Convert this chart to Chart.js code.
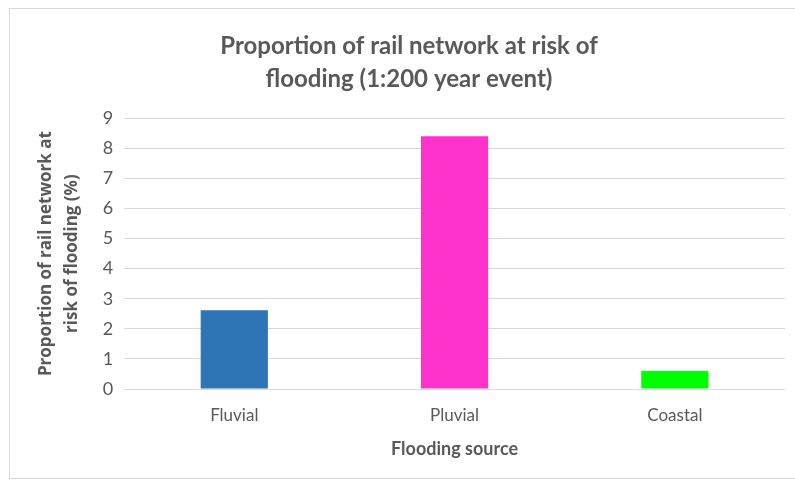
<!DOCTYPE html>
<html>
<head>
<meta charset="utf-8">
<script src="https://cdn.jsdelivr.net/npm/chart.js@4"></script>
<style>
    html, body { margin: 0; padding: 0; background: #ffffff; }
    #wrap { position: relative; width: 795px; height: 482px; }
    #frame { position: absolute; left: 9px; top: 8px; width: 800px; height: 471px; border: 1px solid #d9d9d9; box-sizing: border-box; }
    canvas { position: absolute; left: 0; top: 0; }
</style>
</head>
<body>
<div id="wrap">
    <div id="frame"></div>
    <canvas id="chart" width="795" height="482"></canvas>
</div>
<script>
// Chart data
const categories = ['Fluvial', 'Pluvial', 'Coastal'];
const proportions = [2.62, 8.4, 0.6];
const barColors = ['#2e75b6', '#ff33cc', '#00ff00'];
const yTicks = [0, 1, 2, 3, 4, 5, 6, 7, 8, 9];

const textColor = '#595959';

new Chart(document.getElementById('chart'), {
    type: 'bar',
    data: {
        labels: categories,
        datasets: [{
            data: proportions,
            backgroundColor: barColors,
            borderWidth: 0,
            categoryPercentage: 1,
            barPercentage: 0.305
        }]
    },
    options: {
        responsive: false,
        animation: false,
        layout: {
            padding: { top: 8, right: 10, bottom: 22, left: 33 }
        },
        plugins: {
            legend: { display: false },
            tooltip: { enabled: false },
            title: {
                display: true,
                text: ['Proportion of rail network at risk of', 'flooding (1:200 year event)'],
                color: textColor,
                font: { family: 'Lato', size: 24, weight: 'bold', lineHeight: 1.38 },
                padding: { top: 22, bottom: 22 }
            }
        },
        scales: {
            x: {
                grid: { display: false },
                border: { display: false },
                ticks: {
                    color: textColor,
                    font: { family: 'Lato', size: 17 },
                    padding: 8
                },
                title: {
                    display: true,
                    text: 'Flooding source',
                    color: textColor,
                    font: { family: 'Lato', size: 18, weight: 'bold' },
                    padding: { top: 5, bottom: 0 }
                }
            },
            y: {
                min: 0,
                max: 9,
                afterBuildTicks: (axis) => {
                    axis.ticks = yTicks.map(v => ({ value: v }));
                },
                grid: { color: '#d9d9d9', lineWidth: 1, drawTicks: false },
                border: { display: false },
                ticks: {
                    color: textColor,
                    font: { family: 'Lato', size: 18 },
                    padding: 11
                },
                title: {
                    display: true,
                    text: ['Proportion of rail network at', 'risk of flooding (%)'],
                    color: textColor,
                    font: { family: 'Open Sans', size: 17, weight: 'bold', lineHeight: 1.55 },
                    padding: { top: 0, bottom: 6 }
                }
            }
        }
    }
});
</script>
</body>
</html>
